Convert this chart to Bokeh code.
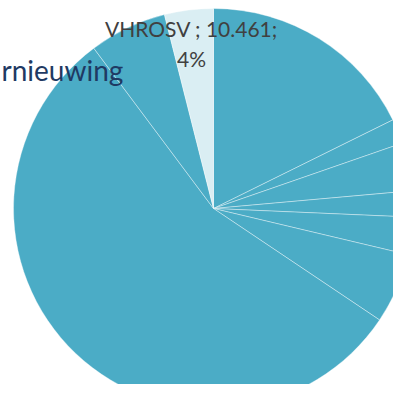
import math
from bokeh.plotting import figure
from bokeh.models import Range1d, ColumnDataSource
from bokeh.core.properties import value
from bokeh.embed import file_html
from bokeh.resources import INLINE

# Slices clockwise from 12 o'clock (in thousands)
categories = ["Categorie 1", "Categorie 2", "Categorie 3", "Categorie 4", "Categorie 5",
              "Categorie 6", "Categorie 7", "Categorie 8", "VHROSV"]
values = [46900, 5300, 10300, 5600, 8000, 15100, 146800, 16600, 10461]
colors = ["#4BACC6"] * 8 + ["#DAEEF3"]
title_fragment = "rnieuwing"

W, H = 393, 384
p = figure(width=W, height=H, output_backend="svg", toolbar_location=None,
           x_range=Range1d(0, W), y_range=Range1d(0, H), min_border=0,
           outline_line_color=None, background_fill_color="white")
p.axis.visible = False
p.grid.visible = False

total = float(sum(values))
starts, ends = [], []
cum = 0.0
for v in values:
    starts.append(math.pi / 2 - 2 * math.pi * cum / total)
    cum += v
    ends.append(math.pi / 2 - 2 * math.pi * cum / total)

cx, cy, r = 213, H - 208, 200
src = ColumnDataSource(dict(cat=categories, val=values, start=starts, end=ends, color=colors))
p.wedge(x=cx, y=cy, radius=r, start_angle="start", end_angle="end", direction="clock",
        fill_color="color", line_color="white", line_width=0.7, line_alpha=0.55, source=src)

# Data label of the last slice
name, val = categories[-1], values[-1]
val_txt = f"{val:,}".replace(",", ".")
pct = round(100 * val / total)
font = value("Lato")
p.text(x=[191], y=[H - 28], text=[f"{name} ; {val_txt};"], text_font=font, text_font_size="21px",
       text_color="#404040", text_align="center", text_baseline="alphabetic")
p.text(x=[191], y=[H - 58], text=[f"{pct}%"], text_font=font, text_font_size="21px",
       text_color="#404040", text_align="center", text_baseline="alphabetic")

# Title fragment at the left
p.text(x=[1], y=[H - 69], text=[title_fragment], text_font=font, text_font_size="28px",
       text_color="#1F3A63", text_align="left", text_baseline="alphabetic")

open("out.html", "w").write(file_html(p, INLINE))
